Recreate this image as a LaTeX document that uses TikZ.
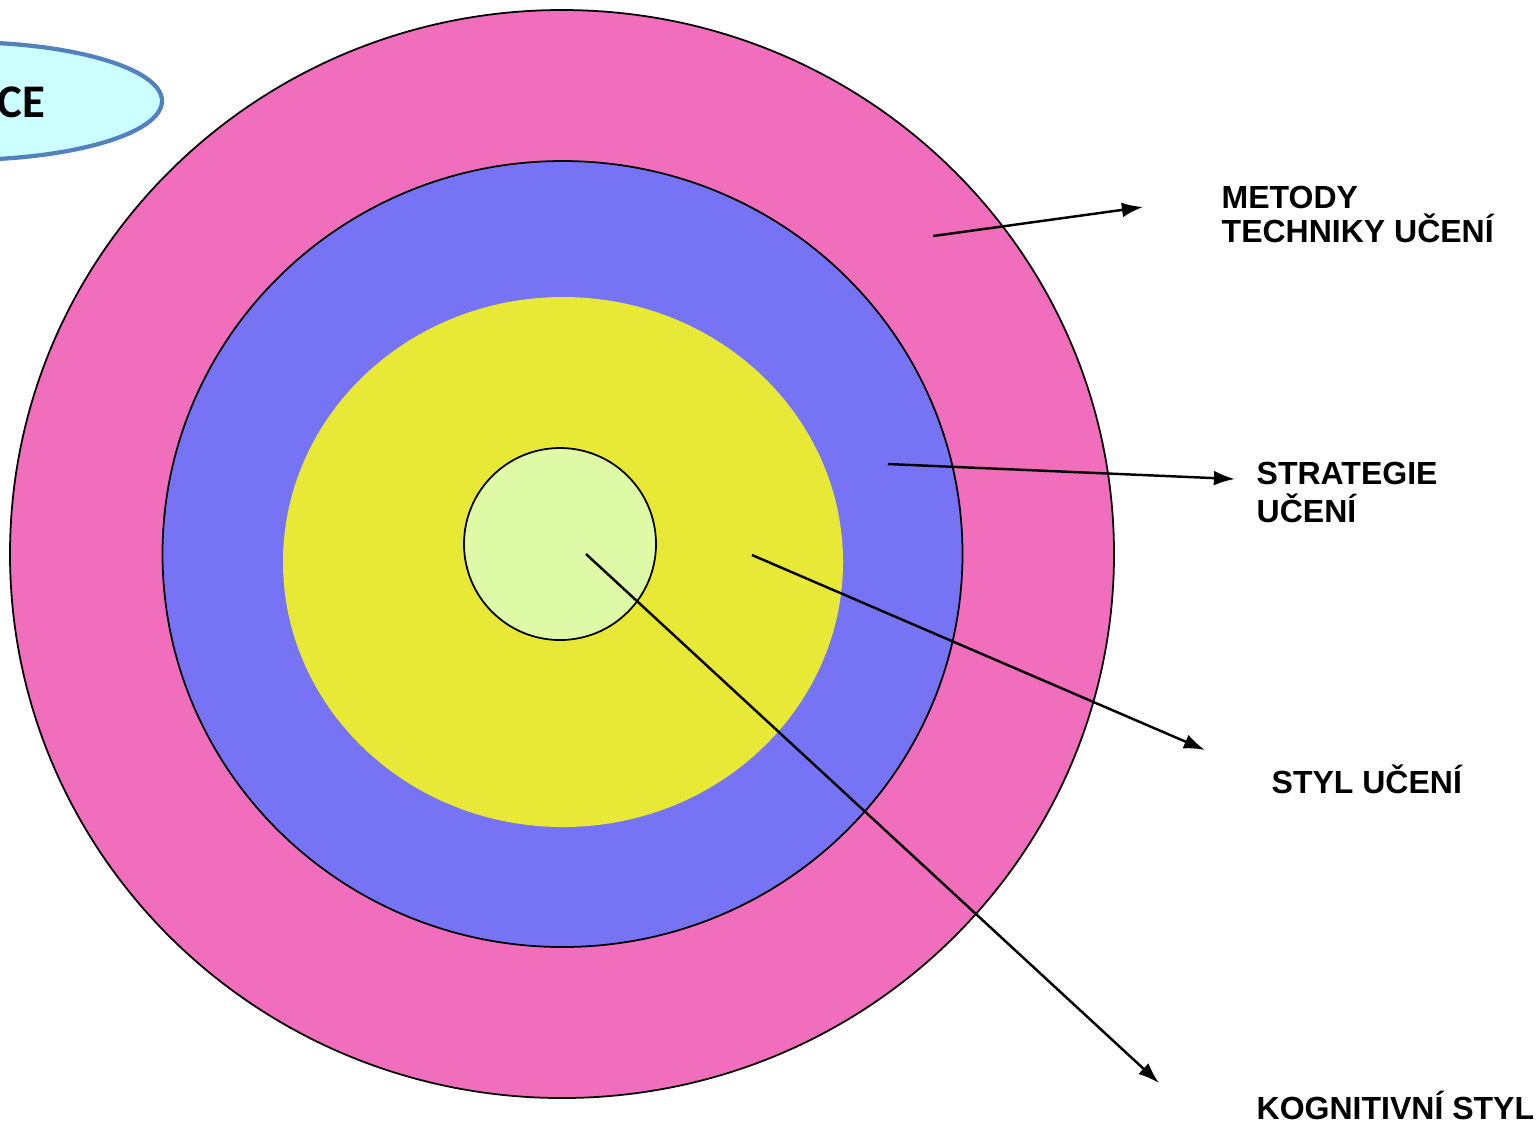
\documentclass[tikz,border=0pt]{standalone}
\usepackage{fontspec}
\setmainfont{Liberation Sans}
\newfontfamily\calibrifont{Carlito}
\usetikzlibrary{arrows.meta,positioning}
\definecolor{ringpink}{RGB}{241,110,189}
\definecolor{ringblue}{RGB}{118,116,244}
\definecolor{ringyellow}{RGB}{232,232,54}
\definecolor{ringgreen}{RGB}{223,250,166}
\definecolor{boxcyan}{RGB}{204,255,255}
\definecolor{boxedge}{RGB}{82,130,190}

\begin{document}
\begin{tikzpicture}[x=0.01cm,y=-0.01cm,
    lbl/.style={anchor=north west,inner sep=0pt,align=left,font=\fontsize{9.1}{9.7}\selectfont\bfseries},
    pointer/.style={line width=0.7pt,-{Latex[length=6pt,width=4.2pt]}}]
    \useasboundingbox (0,0) rectangle (1537,1123);
    \begin{scope}
    \clip (0,0) rectangle (1537,1123);
    \fill[boxcyan] (-40,101) ellipse [x radius=202, y radius=59];
    \draw[boxedge,line width=1.2pt] (-40,101) ellipse [x radius=202, y radius=59];
    \end{scope}
    \node[anchor=base east,inner sep=0pt,font=\fontsize{13.3}{14}\selectfont\calibrifont\bfseries] (ce) at (46,117) {CE};

    \filldraw[fill=ringpink,draw=black,line width=0.5pt] (562,554) ellipse [x radius=552, y radius=544];
    \filldraw[fill=ringblue,draw=black,line width=0.5pt] (562.5,554) ellipse [x radius=400, y radius=393];
    \fill[ringyellow] (563,562) ellipse [x radius=280, y radius=265];
    \filldraw[fill=ringgreen,draw=black,line width=0.5pt] (560,544) circle [radius=96];

    \node[lbl] (metody) at (1221,185) {METODY\\TECHNIKY UČENÍ};
    \node[lbl,font=\fontsize{9.1}{10.8}\selectfont\bfseries] (strategie) at (1256,461) {STRATEGIE\\UČENÍ};
    \node[lbl,anchor=base west] (styl) at (1271,793) {STYL UČENÍ};
    \node[lbl,anchor=base west] (kognitivni) at (1256,1119) {KOGNITIVNÍ STYL};

    \coordinate (mstart) at (933,236);
    \coordinate (mend) at (1143,207);
    \coordinate (sstart) at (888,464);
    \coordinate (send) at (1235,479);
    \coordinate (ystart) at (752,555);
    \coordinate (yend) at (1205,750);
    \coordinate (kstart) at (586,554);
    \coordinate (kend) at (1159,1083);
    \draw[pointer] (mstart) -- (mend);
    \draw[pointer] (sstart) -- (send);
    \draw[pointer] (ystart) -- (yend);
    \draw[pointer] (kstart) -- (kend);
\end{tikzpicture}
\end{document}
